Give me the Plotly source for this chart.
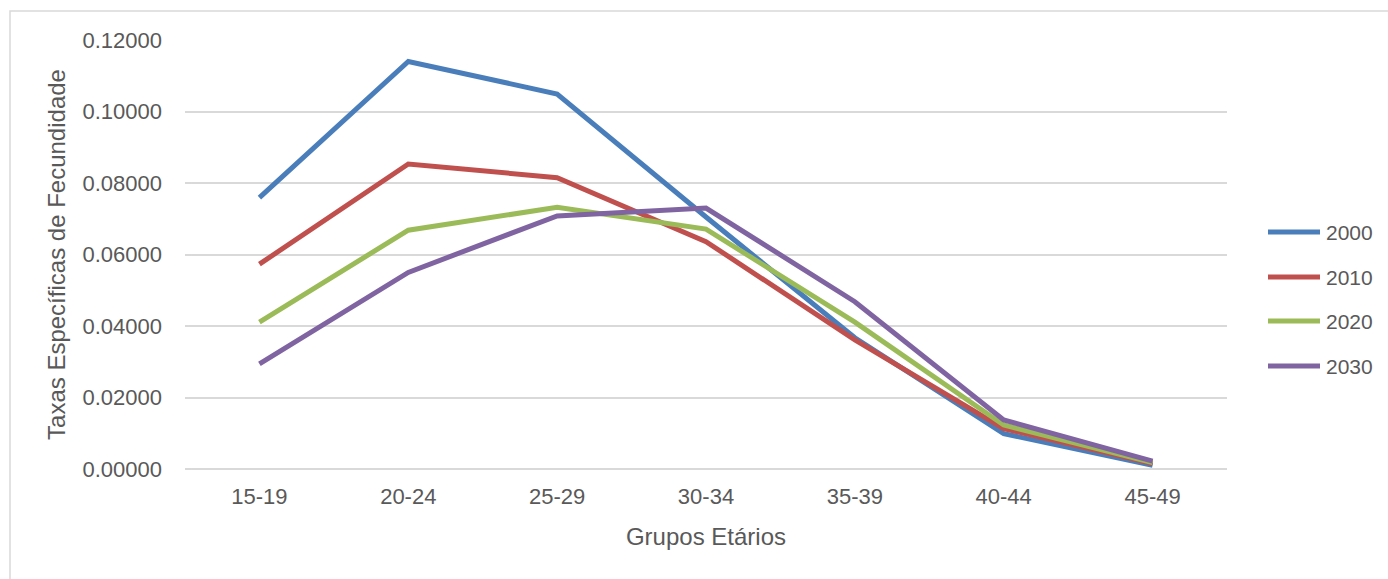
import plotly.graph_objects as go

# Age groups and age-specific fertility rates by year
grupos = ["15-19", "20-24", "25-29", "30-34", "35-39", "40-44", "45-49"]
anos = ["2000", "2010", "2020", "2030"]
taxas_2000 = [0.0759, 0.1140, 0.1049, 0.0705, 0.0367, 0.0099, 0.0010]
taxas_2010 = [0.0573, 0.0853, 0.0815, 0.0636, 0.0361, 0.0113, 0.0015]
taxas_2020 = [0.0411, 0.0668, 0.0732, 0.0671, 0.0411, 0.0123, 0.0018]
taxas_2030 = [0.0294, 0.0550, 0.0708, 0.0730, 0.0468, 0.0137, 0.0022]
y_ticks = [0.0, 0.02, 0.04, 0.06, 0.08, 0.10, 0.12]

series = [taxas_2000, taxas_2010, taxas_2020, taxas_2030]
cores = ["#4A7EBB", "#C0504D", "#9BBB59", "#8064A2"]

FONT = "Liberation Sans, Arial, sans-serif"
TXT = "#595959"

# plot area in pixels (left, right, top, bottom) used to place the legend box
L, R, T, B = 185, 1227, 40, 469
W, H = R - L, B - T


def px_x(px):
    return (px - L) / W


def px_y(py):
    return (B - py) / H


fig = go.Figure()
for nome, valores, cor in zip(anos, series, cores):
    fig.add_trace(go.Scatter(
        x=grupos, y=valores, name=nome, mode="lines",
        line=dict(color=cor, width=5),
        hoverinfo="x+y+name", showlegend=False,
    ))

# legend on the right: long line samples with the year beside each one
shapes = [dict(
    type="rect", xref="paper", yref="paper",
    x0=px_x(10), x1=px_x(1400), y0=px_y(600), y1=px_y(11),
    line=dict(color="#D9D9D9", width=1.5), fillcolor="rgba(0,0,0,0)",
    layer="below",
)]
annotations = []
row_y = [232, 277, 321, 366]
for nome, cor, ry in zip(anos, cores, row_y):
    shapes.append(dict(
        type="line", xref="paper", yref="paper",
        x0=px_x(1268), x1=px_x(1320), y0=px_y(ry), y1=px_y(ry),
        line=dict(color=cor, width=5),
    ))
    annotations.append(dict(
        xref="paper", yref="paper", x=px_x(1324), y=px_y(ry),
        xanchor="left", yanchor="middle", text=nome, showarrow=False,
        font=dict(size=21, color=TXT),
    ))

fig.update_layout(
    width=1388, height=579,
    margin=dict(l=L, r=1388 - R, t=T, b=579 - B),
    paper_bgcolor="white", plot_bgcolor="white",
    font=dict(family=FONT, color=TXT, size=22),
    showlegend=False,
    xaxis=dict(
        range=[-0.5, 6.5], showgrid=False, zeroline=False,
        showline=False, ticks="", ticklabelstandoff=12,
        tickfont=dict(size=22, color=TXT),
        title=dict(text="Grupos Etários", font=dict(size=24, color=TXT), standoff=20),
    ),
    yaxis=dict(
        range=[0, 0.12], tickvals=y_ticks, tickformat=".5f",
        showgrid=True, gridcolor="#D9D9D9", gridwidth=1.5,
        zeroline=True, zerolinecolor="#D9D9D9", zerolinewidth=1.5,
        showline=False, ticks="", ticklabelstandoff=22,
        tickfont=dict(size=22, color=TXT),
        title=dict(text="Taxas Específicas de Fecundidade", font=dict(size=24, color=TXT), standoff=10),
    ),
    shapes=shapes,
    annotations=annotations,
)

fig.write_html("out.html")
